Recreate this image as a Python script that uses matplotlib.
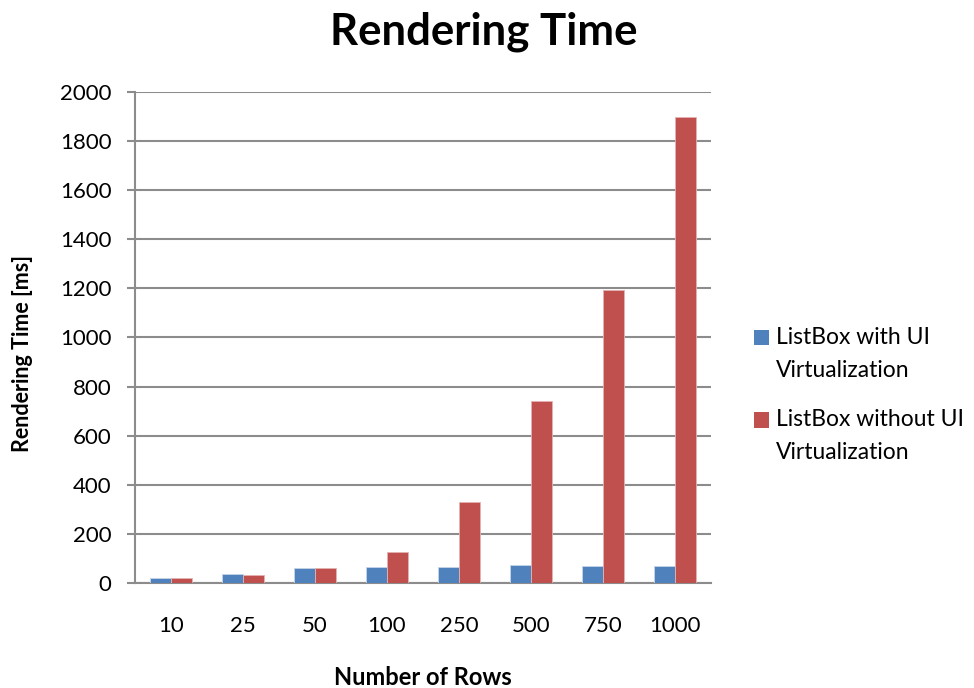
import numpy as np
import matplotlib.pyplot as plt
from matplotlib.patches import Rectangle
from matplotlib.legend_handler import HandlerPatch

rows = ["10", "25", "50", "100", "250", "500", "750", "1000"]
with_virt = [20, 36, 61, 65, 65, 72, 68, 70]
without_virt = [20, 33, 60, 126, 328, 740, 1195, 1900]
series_names = ["ListBox with UI\nVirtualization", "ListBox without UI\nVirtualization"]
colors = ["#4f81bd", "#c0504d"]
edges = ["#c6d5ea", "#e3b3b1"]

plt.rcParams["font.family"] = ["Lato", "DejaVu Sans"]


class RaisedBox(HandlerPatch):
    # legend square lifted so it sits next to the first line of a two-line label
    def __init__(self, lift, **kw):
        super().__init__(**kw)
        self.lift = lift

    def create_artists(self, legend, orig_handle, xdescent, ydescent,
                       width, height, fontsize, trans):
        p = Rectangle((-xdescent, -ydescent + self.lift), width, height)
        self.update_prop(p, orig_handle, legend)
        p.set_transform(trans)
        return [p]


fig = plt.figure(figsize=(9.74, 6.88), dpi=100)
ax = fig.add_axes([135 / 974, 1 - 583 / 688, 576 / 974, 491 / 688])

x = np.arange(len(rows))
w = 0.285
ax.bar(x - w / 2, with_virt, w, color=colors[0], edgecolor=edges[0], linewidth=0.6, zorder=3)
ax.bar(x + w / 2, without_virt, w, color=colors[1], edgecolor=edges[1], linewidth=0.6, zorder=3)

ax.set_xlim(-0.5, len(rows) - 0.5)
ax.set_ylim(0, 2000)
ax.set_yticks(range(0, 2001, 200))
ax.set_xticks(x)
ax.set_xticklabels(rows)
ax.yaxis.grid(True, color="#8c8c8c", linewidth=1.5, zorder=0)

for side in ("top", "right"):
    ax.spines[side].set_visible(False)
for side in ("left", "bottom"):
    ax.spines[side].set_color("#8c8c8c")
    ax.spines[side].set_linewidth(1.5)
ax.tick_params(axis="y", length=5.8, width=1.5, color="#8c8c8c", labelsize=16, pad=11)
ax.tick_params(axis="x", length=0, labelsize=16, pad=24)

fig.text(483.5 / 974, 1 - 45 / 688, "Rendering Time", fontsize=31.5, fontweight="bold",
         ha="center", va="baseline")
fig.text(23 / 974, 1 - 353 / 688, "Rendering Time [ms]", fontsize=15.5, fontweight="bold",
         rotation=90, ha="center", va="center")
fig.text(422.5 / 974, 1 - 685 / 688, "Number of Rows", fontsize=17, fontweight="bold",
         ha="center", va="baseline")

proxies = [Rectangle((0, 0), 1, 1, facecolor=c) for c in colors]
leg = ax.legend(proxies, series_names, loc="upper left",
                bbox_to_anchor=(754 / 974, 1 - 327 / 688), bbox_transform=fig.transFigure,
                frameon=False, fontsize=16.5, borderpad=0, borderaxespad=0,
                handlelength=0.655, handleheight=0.655, handletextpad=0.3,
                labelspacing=1.23, handler_map={Rectangle: RaisedBox(12)})
for t in leg.get_texts():
    t.set_linespacing(1.7)

fig.savefig("out.png", dpi=100)
